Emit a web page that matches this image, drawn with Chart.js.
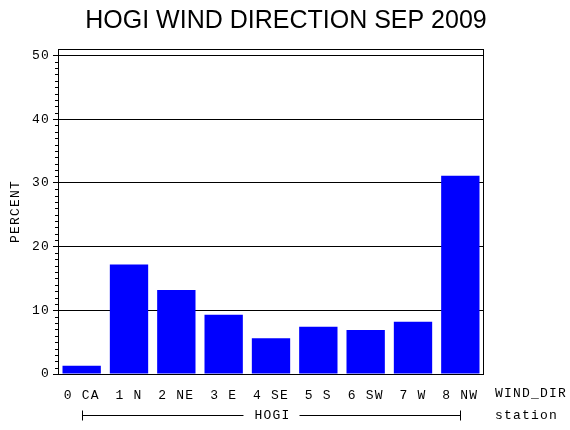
<!DOCTYPE html>
<html lang="en">
<head>
  <meta charset="UTF-8" />
  <title>HOGI Wind Direction Sep 2009</title>
  <script src="https://cdn.jsdelivr.net/npm/chart.js"></script>
  <style>
    html, body { margin: 0; padding: 0; background: #fff; }
  </style>
</head>
<body>
  <canvas id="grafico" width="570" height="430"></canvas>

  <script>
    // datos
    const direcciones = ['0 CA', '1 N', '2 NE', '3 E', '4 SE', '5 S', '6 SW', '7 W', '8 NW'];
    const porcentajes = [1.3, 17.2, 13.2, 9.3, 5.6, 7.4, 6.9, 8.2, 31.1];
    const ticksY = [0, 10, 20, 30, 40, 50];
    const estacion = 'HOGI';
    const titulo = 'HOGI WIND DIRECTION SEP 2009';

    const fuenteMono = { family: 'Liberation Mono', size: 13 };
    const espaciado = '1.2px';

    // espaciado de letras como la fuente de SAS
    const espacio = {
      id: 'espacio',
      beforeLayout(chart) { chart.ctx.letterSpacing = espaciado; },
      beforeDraw(chart) { chart.ctx.letterSpacing = espaciado; }
    };

    // titulo, marco, marcas menores y texto de abajo
    const extras = {
      id: 'extras',
      afterDraw(chart) {
        const ctx = chart.ctx;
        const area = chart.chartArea;
        const x = chart.scales.x;
        const y = chart.scales.y;
        ctx.save();
        ctx.fillStyle = '#000';
        ctx.strokeStyle = '#000';
        ctx.lineWidth = 1;

        ctx.letterSpacing = '0px';
        ctx.font = '25px "Liberation Sans"';
        ctx.textAlign = 'center';
        ctx.textBaseline = 'middle';
        ctx.fillText(titulo, 286, 21);

        ctx.strokeRect(Math.round(area.left) + 0.5, Math.round(area.top) + 0.5,
                       Math.round(area.width) - 1, Math.round(area.bottom - area.top));

        // marcas menores en el eje y
        ctx.beginPath();
        for (let v = 1; v < 51; v++) {
          if (v % 10 === 0) continue;
          let py = Math.round(y.getPixelForValue(v)) + 0.5;
          ctx.moveTo(area.left - 3, py);
          ctx.lineTo(area.left, py);
        }
        ctx.stroke();

        ctx.letterSpacing = espaciado;
        ctx.font = '13px "Liberation Mono"';
        ctx.textAlign = 'left';
        ctx.fillText('WIND_DIR', 495, 394);
        ctx.fillText('station', 495, 416);

        // corchete de la estacion
        let x0 = Math.round(x.getPixelForValue(0)) + 0.5;
        let x1 = Math.round(x.getPixelForValue(direcciones.length - 1)) + 0.5;
        let yb = 415.5;
        let mid = (x0 + x1) / 2;
        let w = ctx.measureText(estacion).width;
        ctx.beginPath();
        ctx.moveTo(x0, yb - 5); ctx.lineTo(x0, yb + 5);
        ctx.moveTo(x0, yb); ctx.lineTo(mid - w / 2 - 10, yb);
        ctx.moveTo(mid + w / 2 + 10, yb); ctx.lineTo(x1, yb);
        ctx.moveTo(x1, yb - 5); ctx.lineTo(x1, yb + 5);
        ctx.stroke();
        ctx.textAlign = 'center';
        ctx.fillText(estacion, mid + 1, 416);
        ctx.restore();
      }
    };

    let ctx = document.getElementById('grafico').getContext('2d');
    let grafico = new Chart(ctx, {
      type: 'bar',
      data: {
        labels: direcciones,
        datasets: [{
          data: porcentajes,
          backgroundColor: '#0000ff',
          borderWidth: 0,
          categoryPercentage: 1,
          barPercentage: 0.81
        }]
      },
      options: {
        responsive: false,
        animation: false,
        devicePixelRatio: 1,
        layout: { padding: { left: 0, right: 86, top: 49, bottom: 0 } },
        plugins: {
          legend: { display: false },
          tooltip: { enabled: false },
          title: { display: false }
        },
        scales: {
          x: {
            offset: true,
            grid: { display: false },
            border: { display: false },
            ticks: { color: '#000', font: fuenteMono, padding: 6, maxRotation: 0, autoSkip: false },
            afterFit: s => { s.height = 56; }
          },
          y: {
            min: 0,
            max: 51,
            z: 1,
            afterBuildTicks: s => { s.ticks = ticksY.map(v => ({ value: v })); },
            grid: { color: '#000', lineWidth: 1, tickLength: 5 },
            border: { display: false },
            ticks: { color: '#000', font: fuenteMono, padding: 3 },
            title: { display: true, text: 'PERCENT', color: '#000', font: fuenteMono, padding: { top: 8, bottom: 0 } },
            afterFit: s => { s.width = 58; }
          }
        }
      },
      plugins: [espacio, extras]
    });
  </script>
</body>
</html>
